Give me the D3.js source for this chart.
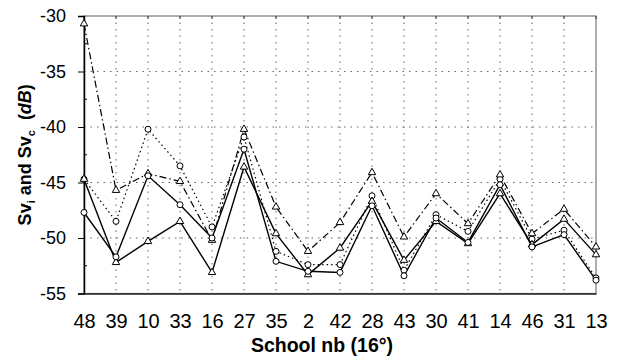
<!DOCTYPE html>
<html>
<head>
<meta charset="utf-8">
<script src="https://cdn.jsdelivr.net/npm/d3@7"></script>
<style>
  body { margin: 0; background: #fff; }
  svg { font-family: "Liberation Sans", Arial, sans-serif; }
</style>
</head>
<body>
<svg id="chart" width="618" height="363"></svg>
<script>
// school numbers along the x axis
var schools = ["48", "39", "10", "33", "16", "27", "35", "2", "42", "28", "43", "30", "41", "14", "46", "31", "13"]
var yTicks = [-30, -35, -40, -45, -50, -55]
var yMinor = [-32.5, -37.5, -42.5, -47.5, -52.5]

// four series (dB)
var solidCircle   = [-47.7, -51.7, -44.4, -47.0, -50.0, -42.0, -52.1, -53.0, -53.1, -47.1, -53.4, -48.2, -50.4, -45.2, -50.8, -49.7, -53.8]
var solidTriangle = [-44.7, -52.2, -50.3, -48.5, -53.1, -43.6, -49.6, -53.3, -50.9, -46.7, -52.0, -48.5, -50.5, -46.0, -50.6, -48.3, -51.5]
var dottedCircle  = [-44.7, -48.5, -40.2, -43.5, -49.0, -40.9, -51.2, -52.4, -52.4, -46.2, -52.9, -47.9, -49.4, -44.7, -50.1, -49.3, -53.6]
var dashDotTriangle = [-30.7, -45.7, -44.2, -44.9, -50.2, -40.2, -47.2, -51.2, -48.6, -44.1, -49.9, -46.0, -48.7, -44.3, -49.6, -47.4, -50.8]

function drawChart() {
    var left = 84, right = 596, top = 16, bottom = 293.5;
    var svg = d3.select("#chart")

    var xScale = d3.scalePoint().domain(schools).range([left, right]).padding(0)
    var yScale = d3.scaleLinear().domain([-55, -30]).range([bottom, top])

    // grid
    svg.append("g").selectAll("line")
        .data(yTicks.filter(d => d != -30 && d != -55))
        .enter().append("line")
        .attr("x1", left).attr("x2", right)
        .attr("y1", d => yScale(d)).attr("y2", d => yScale(d))
        .attr("stroke", "#666").attr("stroke-width", 1)
        .attr("stroke-dasharray", "1.5,5")
    svg.append("g").selectAll("line")
        .data(schools.slice(1, -1))
        .enter().append("line")
        .attr("x1", d => xScale(d)).attr("x2", d => xScale(d))
        .attr("y1", top).attr("y2", bottom)
        .attr("stroke", "#666").attr("stroke-width", 1)
        .attr("stroke-dasharray", "1.5,5")

    // frame
    svg.append("rect")
        .attr("x", left).attr("y", top)
        .attr("width", right - left).attr("height", bottom - top)
        .attr("fill", "none").attr("stroke", "#777").attr("stroke-width", 1.2)

    // top ticks
    svg.append("g").selectAll("line")
        .data(schools)
        .enter().append("line")
        .attr("x1", d => xScale(d)).attr("x2", d => xScale(d))
        .attr("y1", top).attr("y2", top + 3)
        .attr("stroke", "#333")

    // y axis
    var yAxis = svg.append("g")
        .attr("transform", "translate(" + left + ",0)")
        .call(d3.axisLeft(yScale).tickValues(yTicks).tickSize(6).tickPadding(12).tickFormat(d => String(d)))
    yAxis.select(".domain").attr("stroke", "#000").attr("stroke-width", 1.5)
    yAxis.selectAll("text").style("font-size", "18px").attr("fill", "#000")
    svg.append("g").selectAll("line")
        .data(yMinor)
        .enter().append("line")
        .attr("x1", left).attr("x2", left + 3)
        .attr("y1", d => yScale(d)).attr("y2", d => yScale(d))
        .attr("stroke", "#000")

    // x axis
    var xAxis = svg.append("g")
        .attr("transform", "translate(0," + bottom + ")")
        .call(d3.axisBottom(xScale).tickSize(0).tickPadding(20))
    xAxis.select(".domain").attr("stroke", "#222").attr("stroke-width", 1.5)
    xAxis.selectAll("text").style("font-size", "20px").attr("fill", "#000")

    // titles
    svg.append("text")
        .attr("x", 322).attr("y", 352)
        .attr("text-anchor", "middle")
        .style("font-size", "19.5px").style("font-weight", "bold")
        .text("School nb (16°)")

    var yTitle = svg.append("text")
        .attr("transform", "translate(31," + ((top + bottom) / 2) + ") rotate(-90)")
        .attr("text-anchor", "middle")
        .style("font-size", "18px").style("font-weight", "bold")
        .style("white-space", "pre")
    yTitle.append("tspan").text("Sv")
    yTitle.append("tspan").attr("dy", 4).style("font-size", "11px").text("i")
    yTitle.append("tspan").attr("dy", -4).text(" and Sv")
    yTitle.append("tspan").attr("dy", 4).style("font-size", "11px").text("c")
    yTitle.append("tspan").attr("dy", -4).text("  (")
    yTitle.append("tspan").style("font-style", "italic").text("dB")
    yTitle.append("tspan").text(")")

    var series = [
        { values: dottedCircle, dash: "1.5,3", marker: "circle" },
        { values: dashDotTriangle, dash: "7,3,1.5,3", marker: "triangle" },
        { values: solidTriangle, dash: null, marker: "triangle" },
        { values: solidCircle, dash: null, marker: "circle" }
    ]

    var line = d3.line()
        .x((d, i) => xScale(schools[i]))
        .y(d => yScale(d))

    series.forEach(s => {
        svg.append("path")
            .datum(s.values)
            .attr("fill", "none")
            .attr("stroke", "#000")
            .attr("stroke-width", s.dash ? 1.2 : 1.4)
            .attr("stroke-dasharray", s.dash)
            .attr("d", line)
    })

    var tri = d3.symbol().type(d3.symbolTriangle).size(24)
    series.forEach(s => {
        var g = svg.append("g")
        if (s.marker == "circle") {
            g.selectAll("circle")
                .data(s.values)
                .enter().append("circle")
                .attr("cx", (d, i) => xScale(schools[i]))
                .attr("cy", d => yScale(d))
                .attr("r", 3)
                .attr("fill", "#fff").attr("stroke", "#000").attr("stroke-width", 1)
        } else {
            g.selectAll("path")
                .data(s.values)
                .enter().append("path")
                .attr("d", tri)
                .attr("transform", (d, i) => "translate(" + xScale(schools[i]) + "," + yScale(d) + ")")
                .attr("fill", "#fff").attr("stroke", "#000").attr("stroke-width", 1)
        }
    })
}
drawChart();
</script>
</body>
</html>
